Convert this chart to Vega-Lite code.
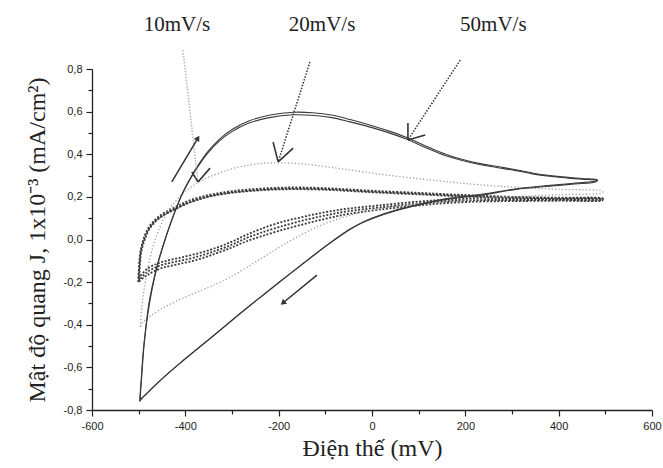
{
  "$schema": "https://vega.github.io/schema/vega-lite/v6.json",
  "width": 560,
  "height": 341,
  "autosize": {"type": "none"},
  "padding": {"left": 92, "top": 69, "right": 11, "bottom": 58},
  "background": "white",
  "config": {"view": {"stroke": null}},
  "datasets": {
    "c50": [
      {"s":"a","i":0,"x":-498,"y":-0.76},{"s":"a","i":1,"x":-495,"y":-0.67},{"s":"a","i":2,"x":-490,"y":-0.52},{"s":"a","i":3,"x":-484,"y":-0.4},{"s":"a","i":4,"x":-478,"y":-0.3},{"s":"a","i":5,"x":-469,"y":-0.2},{"s":"a","i":6,"x":-459,"y":-0.11},{"s":"a","i":7,"x":-448,"y":-0.03},{"s":"a","i":8,"x":-436,"y":0.05},{"s":"a","i":9,"x":-419,"y":0.15},{"s":"a","i":10,"x":-405,"y":0.22},{"s":"a","i":11,"x":-389,"y":0.285},{"s":"a","i":12,"x":-372,"y":0.345},{"s":"a","i":13,"x":-352,"y":0.405},{"s":"a","i":14,"x":-328,"y":0.46},{"s":"a","i":15,"x":-301,"y":0.505},{"s":"a","i":16,"x":-265,"y":0.545},{"s":"a","i":17,"x":-220,"y":0.572},{"s":"a","i":18,"x":-170,"y":0.585},{"s":"a","i":19,"x":-130,"y":0.583},{"s":"a","i":20,"x":-86,"y":0.572},{"s":"a","i":21,"x":-49,"y":0.553},{"s":"a","i":22,"x":0,"y":0.525},{"s":"a","i":23,"x":40,"y":0.498},{"s":"a","i":24,"x":75,"y":0.47},{"s":"a","i":25,"x":122,"y":0.425},{"s":"a","i":26,"x":165,"y":0.388},{"s":"a","i":27,"x":230,"y":0.352},{"s":"a","i":28,"x":270,"y":0.337},{"s":"a","i":29,"x":309,"y":0.323},{"s":"a","i":30,"x":344,"y":0.308},{"s":"a","i":31,"x":400,"y":0.292},{"s":"a","i":32,"x":450,"y":0.283},{"s":"a","i":33,"x":481,"y":0.277},
      {"s":"a","i":34,"x":481,"y":0.272},{"s":"a","i":35,"x":430,"y":0.26},{"s":"a","i":36,"x":380,"y":0.25},{"s":"a","i":37,"x":309,"y":0.235},{"s":"a","i":38,"x":230,"y":0.207},{"s":"a","i":39,"x":165,"y":0.19},{"s":"a","i":40,"x":122,"y":0.173},{"s":"a","i":41,"x":51,"y":0.135},{"s":"a","i":42,"x":0,"y":0.098},{"s":"a","i":43,"x":-21,"y":0.078},{"s":"a","i":44,"x":-49,"y":0.045},{"s":"a","i":45,"x":-92,"y":-0.02},{"s":"a","i":46,"x":-140,"y":-0.1},{"s":"a","i":47,"x":-178,"y":-0.165},{"s":"a","i":48,"x":-200,"y":-0.203},{"s":"a","i":49,"x":-230,"y":-0.255},{"s":"a","i":50,"x":-270,"y":-0.325},{"s":"a","i":51,"x":-307,"y":-0.392},{"s":"a","i":52,"x":-340,"y":-0.452},{"s":"a","i":53,"x":-378,"y":-0.52},{"s":"a","i":54,"x":-410,"y":-0.578},{"s":"a","i":55,"x":-443,"y":-0.64},{"s":"a","i":56,"x":-470,"y":-0.695},{"s":"a","i":57,"x":-490,"y":-0.738},{"s":"a","i":58,"x":-498,"y":-0.76},
      {"s":"b","i":0,"x":-497,"y":-0.75},{"s":"b","i":1,"x":-494,"y":-0.66},{"s":"b","i":2,"x":-489,"y":-0.51},{"s":"b","i":3,"x":-483,"y":-0.39},{"s":"b","i":4,"x":-476,"y":-0.29},{"s":"b","i":5,"x":-467,"y":-0.19},{"s":"b","i":6,"x":-457,"y":-0.1},{"s":"b","i":7,"x":-446,"y":-0.02},{"s":"b","i":8,"x":-434,"y":0.06},{"s":"b","i":9,"x":-417,"y":0.16},{"s":"b","i":10,"x":-403,"y":0.232},{"s":"b","i":11,"x":-387,"y":0.297},{"s":"b","i":12,"x":-370,"y":0.357},{"s":"b","i":13,"x":-350,"y":0.417},{"s":"b","i":14,"x":-326,"y":0.472},{"s":"b","i":15,"x":-299,"y":0.517},{"s":"b","i":16,"x":-263,"y":0.557},{"s":"b","i":17,"x":-218,"y":0.584},{"s":"b","i":18,"x":-168,"y":0.597},{"s":"b","i":19,"x":-128,"y":0.595},{"s":"b","i":20,"x":-84,"y":0.583},{"s":"b","i":21,"x":-47,"y":0.563},{"s":"b","i":22,"x":2,"y":0.533},{"s":"b","i":23,"x":42,"y":0.505},{"s":"b","i":24,"x":77,"y":0.476},{"s":"b","i":25,"x":124,"y":0.43},{"s":"b","i":26,"x":167,"y":0.393},{"s":"b","i":27,"x":232,"y":0.356},{"s":"b","i":28,"x":272,"y":0.341},{"s":"b","i":29,"x":311,"y":0.326},{"s":"b","i":30,"x":346,"y":0.311},{"s":"b","i":31,"x":402,"y":0.295},{"s":"b","i":32,"x":452,"y":0.286},{"s":"b","i":33,"x":483,"y":0.28},
      {"s":"b","i":34,"x":483,"y":0.276},{"s":"b","i":35,"x":432,"y":0.264},{"s":"b","i":36,"x":382,"y":0.254},{"s":"b","i":37,"x":311,"y":0.238},{"s":"b","i":38,"x":232,"y":0.211},{"s":"b","i":39,"x":167,"y":0.194},{"s":"b","i":40,"x":124,"y":0.177},{"s":"b","i":41,"x":53,"y":0.139},{"s":"b","i":42,"x":2,"y":0.102},{"s":"b","i":43,"x":-19,"y":0.082},{"s":"b","i":44,"x":-47,"y":0.049},{"s":"b","i":45,"x":-90,"y":-0.016},{"s":"b","i":46,"x":-138,"y":-0.096},{"s":"b","i":47,"x":-176,"y":-0.161},{"s":"b","i":48,"x":-198,"y":-0.199},{"s":"b","i":49,"x":-228,"y":-0.251},{"s":"b","i":50,"x":-268,"y":-0.321},{"s":"b","i":51,"x":-305,"y":-0.388},{"s":"b","i":52,"x":-338,"y":-0.448},{"s":"b","i":53,"x":-376,"y":-0.516},{"s":"b","i":54,"x":-408,"y":-0.574},{"s":"b","i":55,"x":-441,"y":-0.636},{"s":"b","i":56,"x":-468,"y":-0.691},{"s":"b","i":57,"x":-488,"y":-0.734},{"s":"b","i":58,"x":-497,"y":-0.75}
    ],
    "c20": [
      {"s":"a","i":0,"x":-496,"y":-0.41},{"s":"a","i":1,"x":-494,"y":-0.33},{"s":"a","i":2,"x":-490,"y":-0.26},{"s":"a","i":3,"x":-485,"y":-0.19},{"s":"a","i":4,"x":-477,"y":-0.1},{"s":"a","i":5,"x":-466,"y":-0.01},{"s":"a","i":6,"x":-452,"y":0.07},{"s":"a","i":7,"x":-435,"y":0.14},{"s":"a","i":8,"x":-415,"y":0.195},{"s":"a","i":9,"x":-393,"y":0.238},{"s":"a","i":10,"x":-357,"y":0.285},{"s":"a","i":11,"x":-307,"y":0.327},{"s":"a","i":12,"x":-270,"y":0.347},{"s":"a","i":13,"x":-236,"y":0.357},{"s":"a","i":14,"x":-200,"y":0.36},{"s":"a","i":15,"x":-150,"y":0.355},{"s":"a","i":16,"x":-100,"y":0.342},{"s":"a","i":17,"x":-50,"y":0.327},{"s":"a","i":18,"x":15,"y":0.307},{"s":"a","i":19,"x":100,"y":0.285},{"s":"a","i":20,"x":165,"y":0.27},{"s":"a","i":21,"x":230,"y":0.257},{"s":"a","i":22,"x":309,"y":0.245},{"s":"a","i":23,"x":400,"y":0.235},{"s":"a","i":24,"x":494,"y":0.226},
      {"s":"a","i":25,"x":494,"y":0.22},{"s":"a","i":26,"x":400,"y":0.21},{"s":"a","i":27,"x":300,"y":0.2},{"s":"a","i":28,"x":230,"y":0.19},{"s":"a","i":29,"x":165,"y":0.18},{"s":"a","i":30,"x":100,"y":0.168},{"s":"a","i":31,"x":15,"y":0.145},{"s":"a","i":32,"x":-56,"y":0.108},{"s":"a","i":33,"x":-100,"y":0.075},{"s":"a","i":34,"x":-140,"y":0.035},{"s":"a","i":35,"x":-178,"y":-0.01},{"s":"a","i":36,"x":-220,"y":-0.065},{"s":"a","i":37,"x":-260,"y":-0.12},{"s":"a","i":38,"x":-307,"y":-0.18},{"s":"a","i":39,"x":-340,"y":-0.215},{"s":"a","i":40,"x":-378,"y":-0.25},{"s":"a","i":41,"x":-420,"y":-0.29},{"s":"a","i":42,"x":-451,"y":-0.325},{"s":"a","i":43,"x":-475,"y":-0.36},{"s":"a","i":44,"x":-492,"y":-0.39},{"s":"a","i":45,"x":-496,"y":-0.41}
    ],
    "c10": [
      {"s":"a","i":0,"x":-500,"y":-0.18},{"s":"a","i":1,"x":-498,"y":-0.1},{"s":"a","i":2,"x":-495,"y":-0.045},{"s":"a","i":3,"x":-489,"y":0.005},{"s":"a","i":4,"x":-479,"y":0.055},{"s":"a","i":5,"x":-465,"y":0.093},{"s":"a","i":6,"x":-449,"y":0.12},{"s":"a","i":7,"x":-432,"y":0.14},{"s":"a","i":8,"x":-414,"y":0.16},{"s":"a","i":9,"x":-395,"y":0.18},{"s":"a","i":10,"x":-370,"y":0.198},{"s":"a","i":11,"x":-340,"y":0.213},{"s":"a","i":12,"x":-300,"y":0.227},{"s":"a","i":13,"x":-250,"y":0.237},{"s":"a","i":14,"x":-200,"y":0.243},{"s":"a","i":15,"x":-150,"y":0.244},{"s":"a","i":16,"x":-92,"y":0.24},{"s":"a","i":17,"x":-50,"y":0.235},{"s":"a","i":18,"x":15,"y":0.227},{"s":"a","i":19,"x":100,"y":0.219},{"s":"a","i":20,"x":165,"y":0.212},{"s":"a","i":21,"x":230,"y":0.206},{"s":"a","i":22,"x":300,"y":0.2},{"s":"a","i":23,"x":400,"y":0.196},{"s":"a","i":24,"x":494,"y":0.193},
      {"s":"a","i":25,"x":494,"y":0.19},{"s":"a","i":26,"x":400,"y":0.19},{"s":"a","i":27,"x":300,"y":0.19},{"s":"a","i":28,"x":230,"y":0.192},{"s":"a","i":29,"x":159,"y":0.187},{"s":"a","i":30,"x":100,"y":0.178},{"s":"a","i":31,"x":15,"y":0.16},{"s":"a","i":32,"x":-50,"y":0.145},{"s":"a","i":33,"x":-100,"y":0.128},{"s":"a","i":34,"x":-150,"y":0.105},{"s":"a","i":35,"x":-200,"y":0.078},{"s":"a","i":36,"x":-240,"y":0.048},{"s":"a","i":37,"x":-271,"y":0.02},{"s":"a","i":38,"x":-300,"y":-0.01},{"s":"a","i":39,"x":-335,"y":-0.04},{"s":"a","i":40,"x":-378,"y":-0.068},{"s":"a","i":41,"x":-420,"y":-0.09},{"s":"a","i":42,"x":-452,"y":-0.107},{"s":"a","i":43,"x":-480,"y":-0.135},{"s":"a","i":44,"x":-500,"y":-0.18},
      {"s":"b","i":0,"x":-499,"y":-0.19},{"s":"b","i":1,"x":-497,"y":-0.11},{"s":"b","i":2,"x":-494,"y":-0.053},{"s":"b","i":3,"x":-487,"y":-0.001},{"s":"b","i":4,"x":-477,"y":0.049},{"s":"b","i":5,"x":-463,"y":0.087},{"s":"b","i":6,"x":-447,"y":0.114},{"s":"b","i":7,"x":-430,"y":0.134},{"s":"b","i":8,"x":-412,"y":0.154},{"s":"b","i":9,"x":-393,"y":0.173},{"s":"b","i":10,"x":-368,"y":0.192},{"s":"b","i":11,"x":-338,"y":0.208},{"s":"b","i":12,"x":-298,"y":0.222},{"s":"b","i":13,"x":-248,"y":0.232},{"s":"b","i":14,"x":-198,"y":0.238},{"s":"b","i":15,"x":-148,"y":0.239},{"s":"b","i":16,"x":-90,"y":0.236},{"s":"b","i":17,"x":-48,"y":0.231},{"s":"b","i":18,"x":17,"y":0.223},{"s":"b","i":19,"x":102,"y":0.215},{"s":"b","i":20,"x":167,"y":0.208},{"s":"b","i":21,"x":232,"y":0.202},{"s":"b","i":22,"x":302,"y":0.197},{"s":"b","i":23,"x":402,"y":0.193},{"s":"b","i":24,"x":494,"y":0.19},
      {"s":"b","i":25,"x":494,"y":0.187},{"s":"b","i":26,"x":400,"y":0.186},{"s":"b","i":27,"x":300,"y":0.185},{"s":"b","i":28,"x":230,"y":0.185},{"s":"b","i":29,"x":159,"y":0.179},{"s":"b","i":30,"x":100,"y":0.169},{"s":"b","i":31,"x":15,"y":0.15},{"s":"b","i":32,"x":-50,"y":0.133},{"s":"b","i":33,"x":-100,"y":0.113},{"s":"b","i":34,"x":-150,"y":0.088},{"s":"b","i":35,"x":-200,"y":0.058},{"s":"b","i":36,"x":-240,"y":0.03},{"s":"b","i":37,"x":-271,"y":0.005},{"s":"b","i":38,"x":-300,"y":-0.024},{"s":"b","i":39,"x":-335,"y":-0.053},{"s":"b","i":40,"x":-378,"y":-0.083},{"s":"b","i":41,"x":-420,"y":-0.104},{"s":"b","i":42,"x":-452,"y":-0.121},{"s":"b","i":43,"x":-480,"y":-0.15},{"s":"b","i":44,"x":-499,"y":-0.19},
      {"s":"c","i":0,"x":-501,"y":-0.2},{"s":"c","i":1,"x":-499,"y":-0.12},{"s":"c","i":2,"x":-496,"y":-0.06},{"s":"c","i":3,"x":-490,"y":-0.008},{"s":"c","i":4,"x":-480,"y":0.044},{"s":"c","i":5,"x":-466,"y":0.082},{"s":"c","i":6,"x":-450,"y":0.11},{"s":"c","i":7,"x":-433,"y":0.13},{"s":"c","i":8,"x":-415,"y":0.15},{"s":"c","i":9,"x":-396,"y":0.169},{"s":"c","i":10,"x":-371,"y":0.188},{"s":"c","i":11,"x":-341,"y":0.205},{"s":"c","i":12,"x":-301,"y":0.219},{"s":"c","i":13,"x":-251,"y":0.229},{"s":"c","i":14,"x":-201,"y":0.235},{"s":"c","i":15,"x":-151,"y":0.236},{"s":"c","i":16,"x":-93,"y":0.233},{"s":"c","i":17,"x":-51,"y":0.228},{"s":"c","i":18,"x":14,"y":0.22},{"s":"c","i":19,"x":99,"y":0.212},{"s":"c","i":20,"x":164,"y":0.205},{"s":"c","i":21,"x":229,"y":0.199},{"s":"c","i":22,"x":299,"y":0.194},{"s":"c","i":23,"x":399,"y":0.191},{"s":"c","i":24,"x":494,"y":0.188},
      {"s":"c","i":25,"x":494,"y":0.184},{"s":"c","i":26,"x":400,"y":0.182},{"s":"c","i":27,"x":300,"y":0.18},{"s":"c","i":28,"x":230,"y":0.178},{"s":"c","i":29,"x":159,"y":0.171},{"s":"c","i":30,"x":100,"y":0.16},{"s":"c","i":31,"x":15,"y":0.14},{"s":"c","i":32,"x":-50,"y":0.12},{"s":"c","i":33,"x":-100,"y":0.097},{"s":"c","i":34,"x":-150,"y":0.07},{"s":"c","i":35,"x":-200,"y":0.04},{"s":"c","i":36,"x":-240,"y":0.013},{"s":"c","i":37,"x":-271,"y":-0.01},{"s":"c","i":38,"x":-300,"y":-0.037},{"s":"c","i":39,"x":-335,"y":-0.066},{"s":"c","i":40,"x":-378,"y":-0.097},{"s":"c","i":41,"x":-420,"y":-0.118},{"s":"c","i":42,"x":-452,"y":-0.135},{"s":"c","i":43,"x":-480,"y":-0.165},{"s":"c","i":44,"x":-501,"y":-0.2}
    ],
    "pointers": [
      {"k":"light","x":-405,"y":0.889,"x2":-373,"y2":0.27},
      {"k":"dark","x":-133,"y":0.833,"x2":-201,"y2":0.364},
      {"k":"dark","x":189,"y":0.842,"x2":77,"y2":0.467}
    ],
    "heads": [
      {"x":-386,"y":0.317,"x2":-373,"y2":0.27},
      {"x":-347,"y":0.335,"x2":-373,"y2":0.27},
      {"x":-212,"y":0.457,"x2":-201,"y2":0.364},
      {"x":-169,"y":0.429,"x2":-201,"y2":0.364},
      {"x":77,"y":0.547,"x2":77,"y2":0.467},
      {"x":114,"y":0.49,"x2":77,"y2":0.467}
    ],
    "arrows": [
      {"d":"up","x":-429,"y":0.27,"x2":-373,"y2":0.476},
      {"d":"down","x":-118,"y":-0.167,"x2":-191,"y2":-0.298}
    ],
    "labels": [
      {"t":"10mV/s","x":-418,"y":1.006},
      {"t":"20mV/s","x":-107,"y":1.006},
      {"t":"50mV/s","x":260,"y":1.006}
    ]
  },
  "encoding": {
    "x": {
      "field": "x", "type": "quantitative",
      "scale": {"domain": [-600, 600], "nice": false, "zero": false},
      "axis": {
        "title": "Điện thế (mV)",
        "titleFont": "Liberation Serif", "titleFontSize": 24, "titleFontWeight": "normal", "titleColor": "#222", "titlePadding": 5,
        "values": [-600,-500,-400,-300,-200,-100,0,100,200,300,400,500,600],
        "labelExpr": "abs(datum.value) % 200 == 0 ? replace(format(datum.value, 'd'), '−', '-') : ''",
        "labelFont": "Liberation Sans", "labelFontSize": 11, "labelColor": "#222", "labelPadding": 4,
        "tickSize": {"condition": {"test": "abs(datum.value) % 200 == 0", "value": 6}, "value": 4},
        "tickColor": "#222", "tickWidth": 1.2, "domainColor": "#222", "domainWidth": 1.3,
        "grid": false, "labelFlush": false, "labelOverlap": false
      }
    },
    "y": {
      "field": "y", "type": "quantitative",
      "scale": {"domain": [-0.8, 0.8], "nice": false, "zero": false},
      "axis": {
        "title": "Mật độ quang J, 1x10⁻³ (mA/cm²)",
        "titleFont": "Liberation Serif", "titleFontSize": 24, "titleFontWeight": "normal", "titleColor": "#222", "titlePadding": 14,
        "values": [-0.8,-0.7,-0.6,-0.5,-0.4,-0.3,-0.2,-0.1,0,0.1,0.2,0.3,0.4,0.5,0.6,0.7,0.8],
        "labelExpr": "abs(round(datum.value * 10)) % 2 == 0 ? replace(replace(format(datum.value, '.1f'), '.', ','), '−', '-') : ''",
        "labelFont": "Liberation Sans", "labelFontSize": 11, "labelColor": "#222", "labelPadding": 4,
        "tickSize": {"condition": {"test": "abs(round(datum.value * 10)) % 2 == 0", "value": 6}, "value": 4},
        "tickColor": "#222", "tickWidth": 1.2, "domainColor": "#222", "domainWidth": 1.3,
        "grid": false, "labelFlush": false, "labelOverlap": false
      }
    }
  },
  "layer": [
    {
      "data": {"name": "c10"},
      "mark": {"type": "line", "color": "#3c3c3c", "strokeWidth": 1.8, "strokeDash": [2, 1.6], "interpolate": "catmull-rom"},
      "encoding": {"detail": {"field": "s"}, "order": {"field": "i", "type": "quantitative"}}
    },
    {
      "data": {"name": "c20"},
      "mark": {"type": "line", "color": "#9a9a9a", "strokeWidth": 1.3, "strokeDash": [1.2, 2.2], "interpolate": "catmull-rom"},
      "encoding": {"detail": {"field": "s"}, "order": {"field": "i", "type": "quantitative"}}
    },
    {
      "data": {"name": "c50"},
      "mark": {"type": "line", "color": "#3a3a3a", "strokeWidth": 1.1, "interpolate": "catmull-rom"},
      "encoding": {"detail": {"field": "s"}, "order": {"field": "i", "type": "quantitative"}}
    },
    {
      "data": {"name": "pointers"},
      "mark": {"type": "rule", "strokeDash": [1.5, 1.5], "strokeWidth": 1.5},
      "encoding": {
        "x2": {"field": "x2"}, "y2": {"field": "y2"},
        "color": {"field": "k", "type": "nominal", "scale": {"domain": ["light", "dark"], "range": ["#b5b5b5", "#333333"]}, "legend": null}
      }
    },
    {
      "data": {"name": "heads"},
      "mark": {"type": "rule", "color": "#333", "strokeWidth": 1.6},
      "encoding": {"x2": {"field": "x2"}, "y2": {"field": "y2"}}
    },
    {
      "data": {"name": "arrows"},
      "mark": {"type": "rule", "color": "#333", "strokeWidth": 1.5},
      "encoding": {"x2": {"field": "x2"}, "y2": {"field": "y2"}}
    },
    {
      "data": {"name": "arrows"},
      "transform": [{"filter": "datum.d == 'up'"}],
      "mark": {"type": "point", "shape": "triangle-up", "filled": true, "color": "#333", "size": 40, "angle": 31, "opacity": 1},
      "encoding": {"x": {"field": "x2", "type": "quantitative"}, "y": {"field": "y2", "type": "quantitative"}}
    },
    {
      "data": {"name": "arrows"},
      "transform": [{"filter": "datum.d == 'down'"}],
      "mark": {"type": "point", "shape": "triangle-up", "filled": true, "color": "#333", "size": 40, "angle": 230, "opacity": 1},
      "encoding": {"x": {"field": "x2", "type": "quantitative"}, "y": {"field": "y2", "type": "quantitative"}}
    },
    {
      "data": {"name": "labels"},
      "mark": {"type": "text", "font": "Liberation Serif", "fontSize": 21, "color": "#222", "align": "center", "baseline": "middle"},
      "encoding": {"text": {"field": "t"}}
    }
  ]
}
